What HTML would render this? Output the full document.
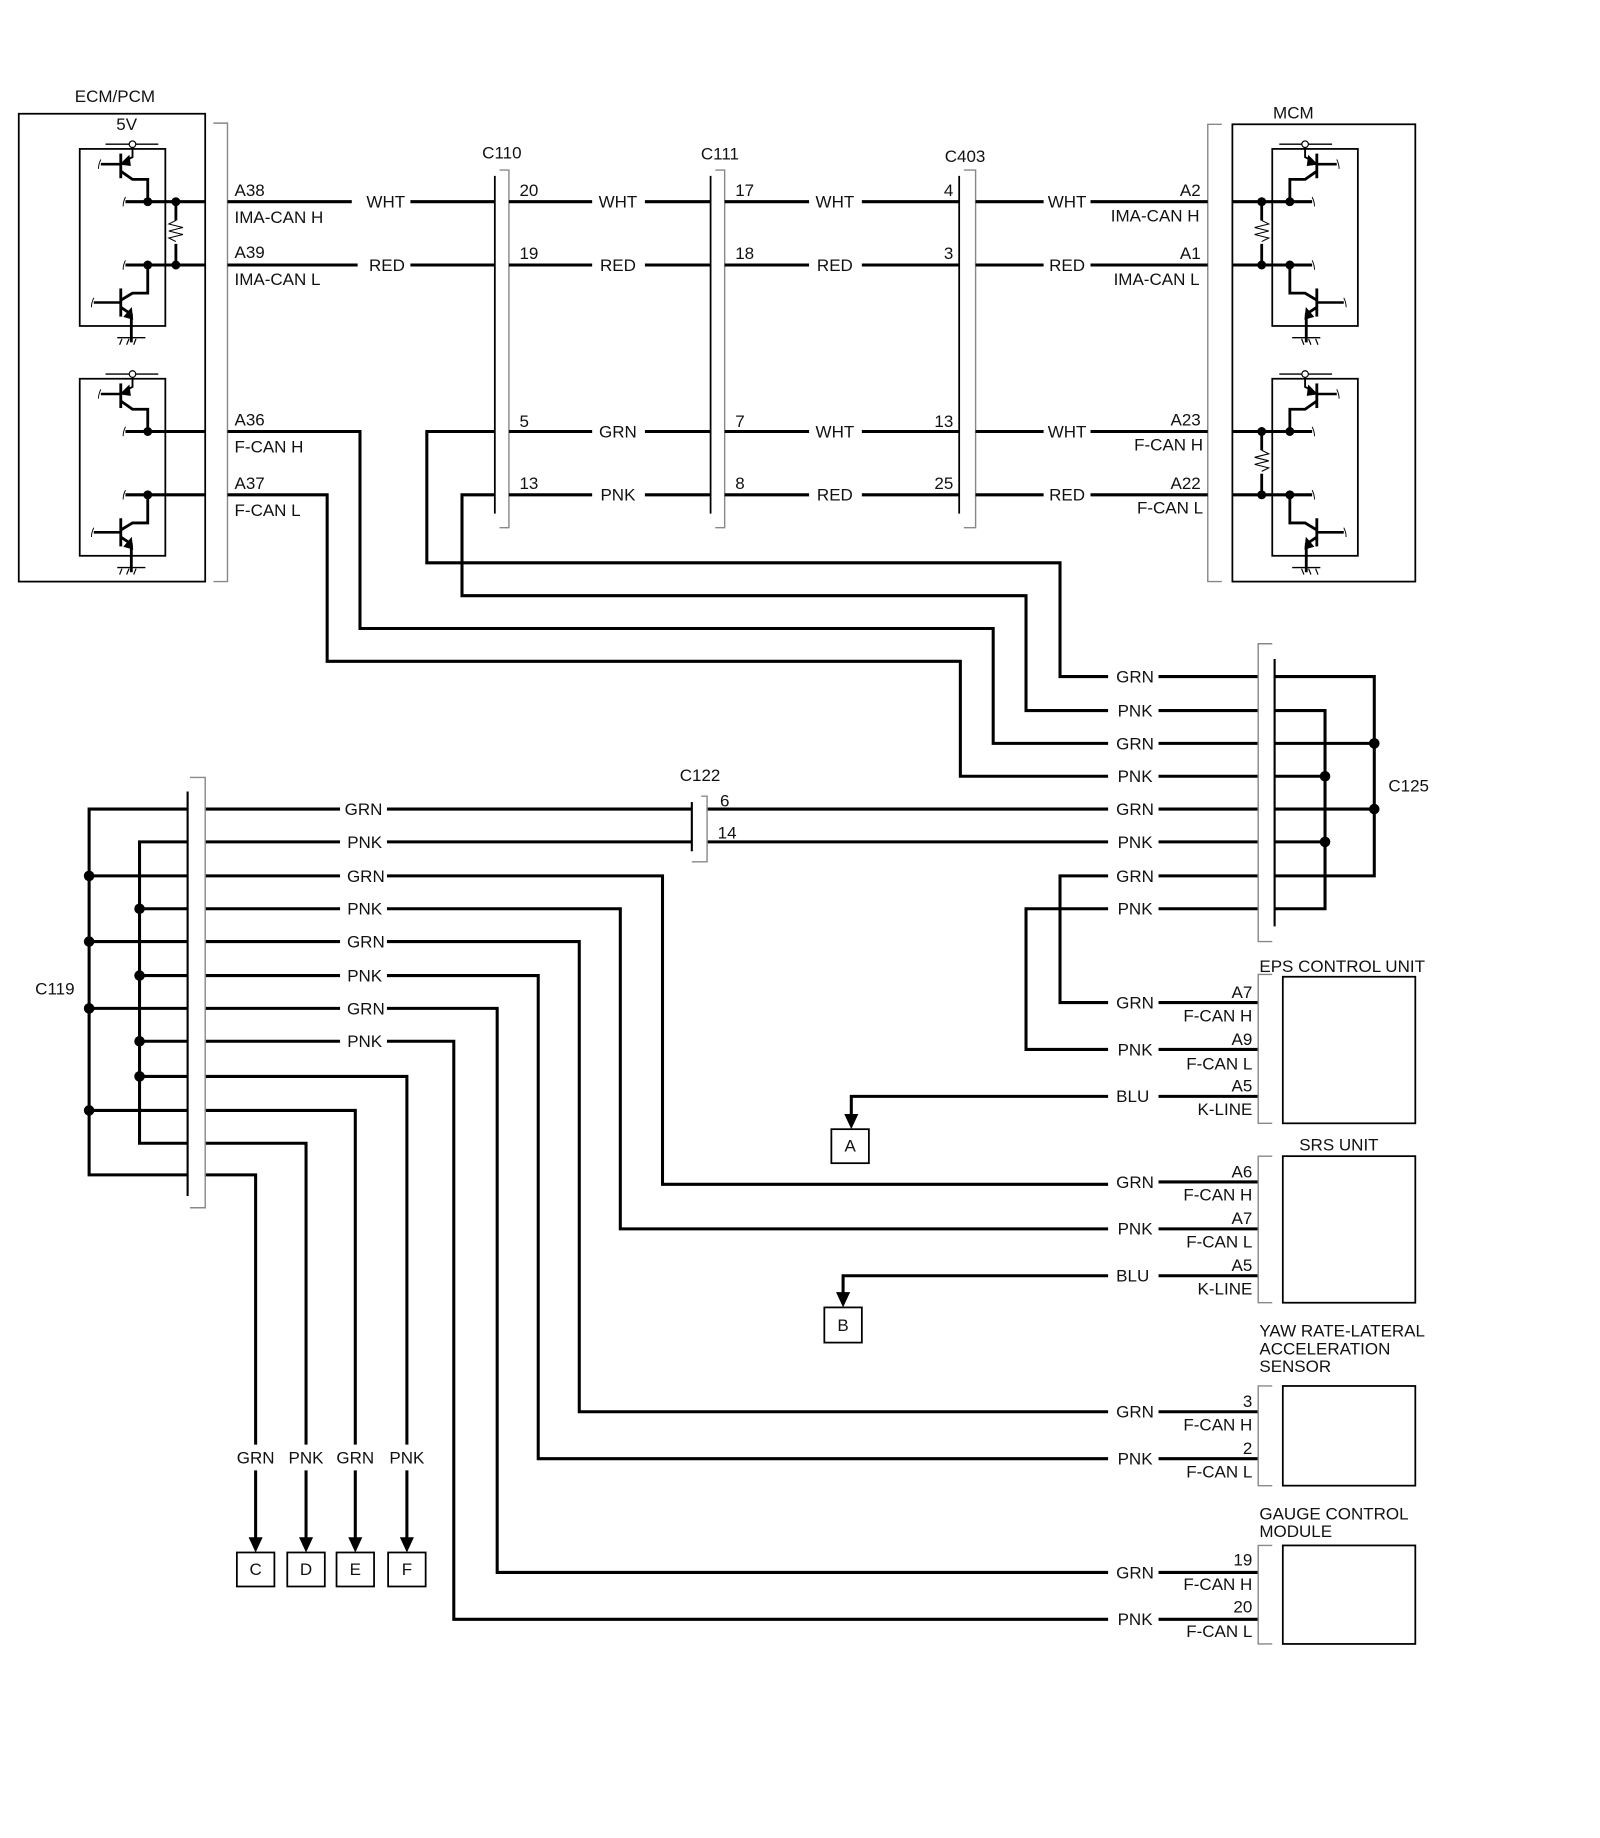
<!DOCTYPE html>
<html><head><meta charset="utf-8"><style>
html,body{margin:0;padding:0;background:#fff}
svg{display:block}
text{font-family:"Liberation Sans",sans-serif;font-size:14.5px;fill:#111}
</style></head><body>
<svg width="1600" height="1838" viewBox="0 0 1364.5 1567.5" preserveAspectRatio="none" xmlns="http://www.w3.org/2000/svg">
<defs>
<g id="blk">
 <line x1="90" y1="123" x2="135" y2="123" stroke="#000" stroke-width="1.2"/>
 <circle cx="113" cy="123" r="2.8" fill="#fff" stroke="#000" stroke-width="1"/>
 <polyline points="113,126 113,134 107,137" fill="none" stroke="#000" stroke-width="1.6"/>
 <polygon points="103,140 110,133 111,141" fill="#000"/>
 <line x1="103" y1="131" x2="103" y2="152" stroke="#000" stroke-width="2.4"/>
 <line x1="86" y1="140" x2="103" y2="140" stroke="#000" stroke-width="2.2"/>
 <polyline points="103,146 113,153 126,153 126,172" fill="none" stroke="#000" stroke-width="2.4"/>
 <line x1="107" y1="172" x2="175" y2="172" stroke="#000" stroke-width="2.6"/>
 <circle cx="126" cy="172" r="3.3" fill="#000"/>
 <line x1="107" y1="226" x2="175" y2="226" stroke="#000" stroke-width="2.6"/>
 <circle cx="126" cy="226" r="3.3" fill="#000"/>
 <polyline points="126,226 126,250 113,250 103,256" fill="none" stroke="#000" stroke-width="2.4"/>
 <line x1="103" y1="246" x2="103" y2="270" stroke="#000" stroke-width="2.4"/>
 <line x1="80" y1="258" x2="103" y2="258" stroke="#000" stroke-width="2.2"/>
 <polyline points="103,262 112,268 112,292" fill="none" stroke="#000" stroke-width="2.4"/>
 <polygon points="106,270 112,263 113,272" fill="#000"/>
 <line x1="100" y1="288" x2="124" y2="288" stroke="#000" stroke-width="1.2"/>
 <path d="M104 289 l-2 5 M110 289 l-2 5 M116 289 l-2 5" stroke="#000" stroke-width="1"/>
 <rect x="68" y="127" width="73" height="151" fill="none" stroke="#000" stroke-width="1.5"/>
 <path d="M107 168 q-2 4 -2 8 M107 222 q-2 4 -2 8 M86 136 q-2 4 -2 8 M80 254 q-2 4 -2 8" fill="none" stroke="#000" stroke-width="0.8"/>
</g>
<g id="res">
 <line x1="150" y1="172" x2="150" y2="188" stroke="#000" stroke-width="2.4"/>
 <line x1="150" y1="208" x2="150" y2="226" stroke="#000" stroke-width="2.4"/>
 <path d="M150 188 l-6 3 l12 3 l-12 3 l12 3 l-12 3 l6 3" fill="none" stroke="#000" stroke-width="0.9"/>
 <circle cx="150" cy="172" r="3.3" fill="#000"/>
 <circle cx="150" cy="226" r="3.3" fill="#000"/>
</g>
</defs>

<g stroke="#000" fill="none">
<rect x="16" y="97" width="159" height="399" stroke-width="1.5"/>
<polyline points="182,105 194,105 194,496 182,496" stroke="#888" stroke-width="1.2"/>
<use href="#blk"/><use href="#res"/>
<use href="#blk" transform="translate(0,196)"/>
<rect x="1051" y="106" width="156" height="390" stroke-width="1.5"/>
<polyline points="1042,106 1030,106 1030,496 1042,496" stroke="#888" stroke-width="1.2"/>
<g transform="matrix(-1 0 0 1 1226 0)"><use href="#blk"/><use href="#res"/><use href="#blk" transform="translate(0,196)"/><use href="#res" transform="translate(0,196)"/></g>

<g stroke-width="1.2" stroke="#888">
<polyline points="426,145 434,145 434,450 426,450"/>
<polyline points="610,145 618,145 618,450 610,450"/>
<polyline points="822,145 832,145 832,450 822,450"/>
</g>
<g stroke-width="1.5"><line x1="422" y1="150" x2="422" y2="438"/><line x1="606" y1="150" x2="606" y2="438"/><line x1="818" y1="150" x2="818" y2="438"/></g>

<g stroke-width="2.6">
<path d="M194 172H300M350 172H422M434 172H505M550 172H606M618 172H690M735 172H818M832 172H890M930 172H1030"/>
<path d="M194 226H305M350 226H422M434 226H505M550 226H606M618 226H690M735 226H818M832 226H890M930 226H1030"/>
<path d="M434 368H505M550 368H606M618 368H690M735 368H818M832 368H890M930 368H1030"/>
<path d="M434 422H505M550 422H606M618 422H690M735 422H818M832 422H890M930 422H1030"/>
<path d="M194 368H307V536H847V634H945"/>
<path d="M194 422H279V564H819V662H945"/>
<path d="M422 368H364V480H904V577H945"/>
<path d="M422 422H394V508H875V606H945"/>
<path d="M988 577H1073M988 606H1073M988 634H1073M988 662H1073M988 690H1073M988 718H1073M988 747H1073M988 775H1073"/>
<path d="M1087 577H1172V747H1087M1087 634H1172M1087 690H1172"/>
<path d="M1087 606H1130V775H1087M1087 662H1130M1087 718H1130"/>
<path d="M603 690H945M603 718H945"/>
<path d="M175 690H290M330 690H590M175 718H290M330 718H590"/>
<path d="M945 747H904V855H945M945 775H875V895H945"/>
<path d="M988 855H1073M988 895H1073M988 935H1073M988 1008H1073M988 1048H1073M988 1088H1073M988 1204H1073M988 1244H1073M988 1341H1073M988 1381H1073"/>
<path d="M945 935H726V952M945 1088H719V1104"/>
<path d="M175 747H290M330 747H565V1010H945"/>
<path d="M175 775H290M330 775H529V1048H945"/>
<path d="M175 803H290M330 803H494V1204H945"/>
<path d="M175 832H290M330 832H459V1244H945"/>
<path d="M175 860H290M330 860H424V1341H945"/>
<path d="M175 888H290M330 888H387V1381H945"/>
<path d="M175 918H347V1232M347 1254V1313"/>
<path d="M175 947H303V1232M303 1254V1313"/>
<path d="M175 975H261V1232M261 1254V1313"/>
<path d="M175 1002H218V1232M218 1254V1313"/>
<path d="M160 690H76V1002H160M160 747H76M160 803H76M160 860H76M160 947H76"/>
<path d="M160 718H119V975H160M160 775H119M160 832H119M160 888H119M160 918H119"/>
</g>
<g fill="#000" stroke="none">
<circle cx="1172" cy="634" r="4.5"/><circle cx="1172" cy="690" r="4.5"/><circle cx="1130" cy="662" r="4.5"/><circle cx="1130" cy="718" r="4.5"/>
<circle cx="76" cy="747" r="4.5"/><circle cx="76" cy="803" r="4.5"/><circle cx="76" cy="860" r="4.5"/><circle cx="76" cy="947" r="4.5"/>
<circle cx="119" cy="775" r="4.5"/><circle cx="119" cy="832" r="4.5"/><circle cx="119" cy="888" r="4.5"/><circle cx="119" cy="918" r="4.5"/>
<polygon points="720,950 732,950 726,963"/><polygon points="713,1102 725,1102 719,1115"/>
<polygon points="212,1311 224,1311 218,1324"/><polygon points="255,1311 267,1311 261,1324"/><polygon points="297,1311 309,1311 303,1324"/><polygon points="341,1311 353,1311 347,1324"/>
</g>
<g stroke="#888" stroke-width="1.2">
<polyline points="1085,549 1073,549 1073,803 1085,803"/>
<polyline points="598,679 603,679 603,735 590,735"/>
<polyline points="162,663 175,663 175,1030 162,1030"/>
<polyline points="1085,831 1073,831 1073,958 1085,958"/>
<polyline points="1085,986 1073,986 1073,1111 1085,1111"/>
<polyline points="1085,1182 1073,1182 1073,1267 1085,1267"/>
<polyline points="1085,1318 1073,1318 1073,1402 1085,1402"/>
</g>
<g stroke-width="1.8"><line x1="1087" y1="562" x2="1087" y2="790"/><line x1="590" y1="684" x2="590" y2="726"/><line x1="160" y1="675" x2="160" y2="1020"/></g>
<g stroke-width="1.5">
<rect x="1094" y="833" width="113" height="125"/><rect x="1094" y="986" width="113" height="125"/>
<rect x="1094" y="1182" width="113" height="85"/><rect x="1094" y="1318" width="113" height="84"/>
<rect x="709" y="963" width="32" height="29"/><rect x="703" y="1115" width="32" height="30"/>
<rect x="202" y="1324" width="32" height="29"/><rect x="245" y="1324" width="32" height="29"/><rect x="287" y="1324" width="32" height="29"/><rect x="331" y="1324" width="32" height="29"/>
</g>
</g>

<g>
<text x="98" y="87" text-anchor="middle">ECM/PCM</text>
<text x="108" y="111" text-anchor="middle">5V</text>
<text x="1103" y="101" text-anchor="middle">MCM</text>
<text x="200" y="167">A38</text><text x="200" y="190">IMA-CAN H</text>
<text x="200" y="220">A39</text><text x="200" y="243">IMA-CAN L</text>
<text x="200" y="363">A36</text><text x="200" y="386">F-CAN H</text>
<text x="200" y="417">A37</text><text x="200" y="440">F-CAN L</text>
<g text-anchor="middle">
<text x="329" y="177">WHT</text><text x="330" y="231">RED</text>
<text x="527" y="177">WHT</text><text x="527" y="231">RED</text><text x="527" y="373">GRN</text><text x="527" y="427">PNK</text>
<text x="712" y="177">WHT</text><text x="712" y="231">RED</text><text x="712" y="373">WHT</text><text x="712" y="427">RED</text>
<text x="910" y="177">WHT</text><text x="910" y="231">RED</text><text x="910" y="373">WHT</text><text x="910" y="427">RED</text>
<text x="428" y="135">C110</text><text x="614" y="136">C111</text><text x="823" y="138">C403</text>
<text x="597" y="666">C122</text>
</g>
<text x="443" y="167">20</text><text x="443" y="221">19</text><text x="443" y="364">5</text><text x="443" y="417">13</text>
<text x="627" y="167">17</text><text x="627" y="221">18</text><text x="627" y="364">7</text><text x="627" y="417">8</text>
<g text-anchor="end">
<text x="813" y="167">4</text><text x="813" y="221">3</text><text x="813" y="364">13</text><text x="813" y="417">25</text>
<text x="1024" y="167">A2</text><text x="1023" y="189">IMA-CAN H</text>
<text x="1024" y="221">A1</text><text x="1023" y="243">IMA-CAN L</text>
<text x="1024" y="363">A23</text><text x="1026" y="384">F-CAN H</text>
<text x="1024" y="417">A22</text><text x="1026" y="438">F-CAN L</text>
</g>
<text x="614" y="688">6</text><text x="612" y="715">14</text>
<text x="1184" y="675">C125</text>
<text x="30" y="848">C119</text>
<g text-anchor="middle">
<text x="968" y="582">GRN</text><text x="968" y="611">PNK</text><text x="968" y="639">GRN</text><text x="968" y="667">PNK</text>
<text x="968" y="695">GRN</text><text x="968" y="723">PNK</text><text x="968" y="752">GRN</text><text x="968" y="780">PNK</text>
<text x="968" y="860">GRN</text><text x="968" y="900">PNK</text><text x="966" y="940">BLU</text>
<text x="968" y="1013">GRN</text><text x="968" y="1053">PNK</text><text x="966" y="1093">BLU</text>
<text x="968" y="1209">GRN</text><text x="968" y="1249">PNK</text><text x="968" y="1346">GRN</text><text x="968" y="1386">PNK</text>
<text x="310" y="695">GRN</text><text x="311" y="723">PNK</text><text x="312" y="752">GRN</text><text x="311" y="780">PNK</text>
<text x="312" y="808">GRN</text><text x="311" y="837">PNK</text><text x="312" y="865">GRN</text><text x="311" y="893">PNK</text>
<text x="218" y="1248">GRN</text><text x="261" y="1248">PNK</text><text x="303" y="1248">GRN</text><text x="347" y="1248">PNK</text>
<g style="font-size:12px"><text x="725" y="982">A</text><text x="719" y="1135">B</text>
<text x="218" y="1343">C</text><text x="261" y="1343">D</text><text x="303" y="1343">E</text><text x="347" y="1343">F</text></g>
</g>
<text x="1074" y="829">EPS CONTROL UNIT</text>
<text x="1108" y="981">SRS UNIT</text>
<text x="1074" y="1140">YAW RATE-LATERAL</text><text x="1074" y="1155">ACCELERATION</text><text x="1074" y="1170">SENSOR</text>
<text x="1074" y="1296">GAUGE CONTROL</text><text x="1074" y="1311">MODULE</text>
<g text-anchor="end">
<text x="1068" y="851">A7</text><text x="1068" y="871">F-CAN H</text>
<text x="1068" y="891">A9</text><text x="1068" y="912">F-CAN L</text>
<text x="1068" y="931">A5</text><text x="1068" y="951">K-LINE</text>
<text x="1068" y="1004">A6</text><text x="1068" y="1024">F-CAN H</text>
<text x="1068" y="1044">A7</text><text x="1068" y="1064">F-CAN L</text>
<text x="1068" y="1084">A5</text><text x="1068" y="1104">K-LINE</text>
<text x="1068" y="1200">3</text><text x="1068" y="1220">F-CAN H</text>
<text x="1068" y="1240">2</text><text x="1068" y="1260">F-CAN L</text>
<text x="1068" y="1335">19</text><text x="1068" y="1356">F-CAN H</text>
<text x="1068" y="1375">20</text><text x="1068" y="1396">F-CAN L</text>
</g>
</g>
</svg>
</body></html>
